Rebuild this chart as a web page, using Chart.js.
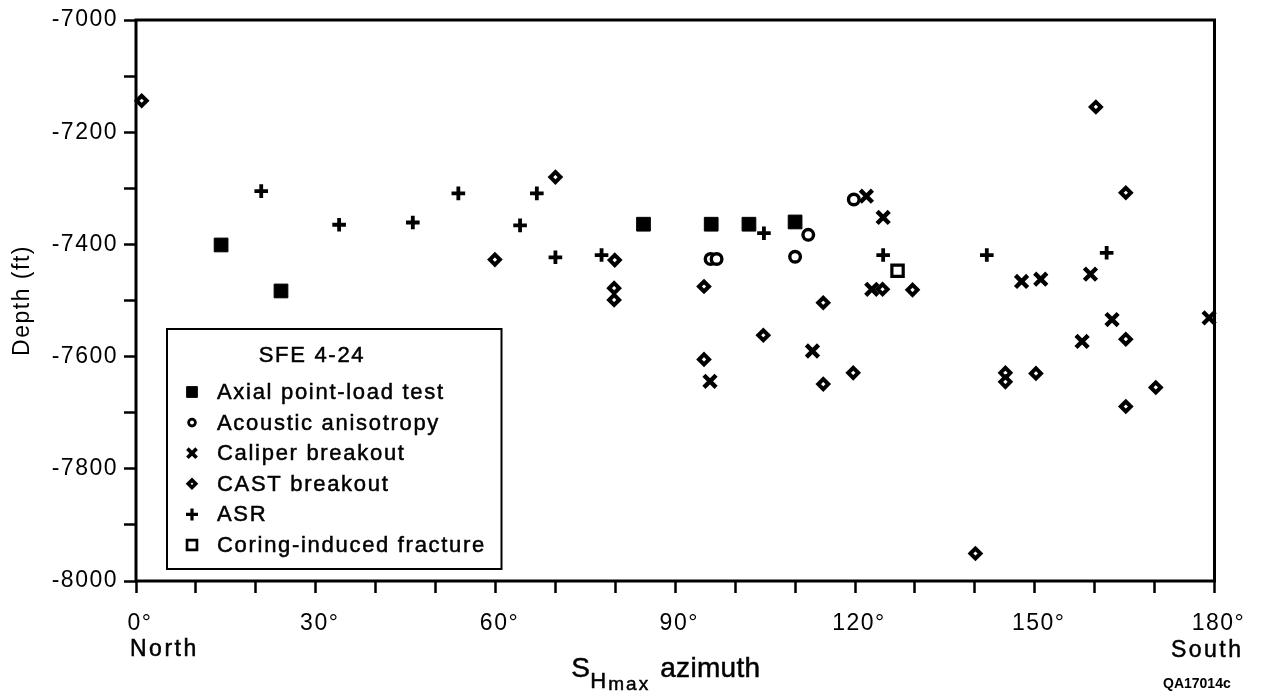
<!DOCTYPE html>
<html><head><meta charset="utf-8">
<script src="https://cdn.jsdelivr.net/npm/chart.js@4/dist/chart.umd.min.js"></script>
<style>html,body{margin:0;padding:0;background:#fff;}#wrap{width:1266px;height:694px;position:relative;background:#fff}</style>
</head><body><div id="wrap"><canvas id="c" width="1266" height="694"></canvas></div>
<script>
// ---- data (azimuth in degrees, depth in ft) ----
const seriesNames = ['Axial point-load test','Acoustic anisotropy','Caliper breakout','CAST breakout','ASR','Coring-induced fracture'];
const legendTitle = 'SFE 4-24';

const axialAz = [14.2, 24.2, 84.7, 96.0, 102.3, 110.0];
const axialDepth = [-7401, -7483, -7364, -7364, -7364, -7360];

const acousticAz = [119.8, 112.2, 110.0, 95.9, 96.9];
const acousticDepth = [-7320, -7383, -7422, -7426, -7426];

const caliperAz = [95.8, 112.9, 121.9, 124.7, 122.8, 147.8, 151.0, 159.3, 157.9, 162.9, 179.1];
const caliperDepth = [-7644, -7590, -7314, -7352, -7480, -7466, -7462, -7453, -7573, -7534, -7531];

const castAz = [0.95, 59.9, 70.0, 79.9, 79.8, 79.8, 94.8, 94.8, 104.7, 114.7, 114.7, 119.7, 124.6, 129.6, 140.1, 145.1, 145.1, 150.2, 160.2, 165.2, 165.2, 165.2, 170.2];
const castDepth = [-7144, -7427, -7280, -7428, -7478, -7499, -7475, -7605, -7562, -7504, -7649, -7629, -7480, -7481, -7951, -7629, -7645, -7630, -7155, -7308, -7569, -7689, -7655];

const asrAz = [20.9, 33.9, 46.2, 53.8, 64.1, 66.9, 70.0, 77.7, 104.8, 124.7, 142.0, 162.0];
const asrDepth = [-7305, -7365, -7361, -7309, -7366, -7309, -7423, -7419, -7380, -7419, -7419, -7415];

const coringAz = [127.1];
const coringDepth = [-7447];

const xTickValues = [0, 30, 60, 90, 120, 150, 180];
const xTickText = ['0°', '30°', '60°', '90°', '120°', '150°', '180°'];
const yTickValues = [-7000, -7200, -7400, -7600, -7800, -8000];
const yTickText = ['-7000', '-7200', '-7400', '-7600', '-7800', '-8000'];

function pts(xs, ys) { return xs.map((x, i) => ({x: x, y: ys[i]})); }

const FONT = '"Liberation Sans", Arial, Helvetica, sans-serif';
const K = '#000';

const styles = [
  {pointStyle:'rect', radius:9.7, borderWidth:1, bg:K, lr:7.6, lb:1},
  {pointStyle:'circle', radius:5.3, borderWidth:3.4, bg:'#fff', lr:3.4, lb:2.8},
  {pointStyle:'crossRot', radius:8.6, borderWidth:4.4, bg:K, lr:6.5, lb:3.6},
  {pointStyle:'rectRot', radius:5, borderWidth:4, bg:'#fff', lr:3.8, lb:3.5},
  {pointStyle:'cross', radius:6.8, borderWidth:3.8, bg:K, lr:6, lb:3.2},
  {pointStyle:'rect', radius:8, borderWidth:3.2, bg:'#fff', lr:7, lb:2.7}
];
const seriesData = [pts(axialAz, axialDepth), pts(acousticAz, acousticDepth), pts(caliperAz, caliperDepth),
                    pts(castAz, castDepth), pts(asrAz, asrDepth), pts(coringAz, coringDepth)];

const datasets = seriesNames.map((n, i) => ({
  label: n,
  data: seriesData[i],
  showLine: false,
  pointStyle: styles[i].pointStyle,
  pointRadius: styles[i].radius,
  pointBorderWidth: styles[i].borderWidth,
  pointBackgroundColor: styles[i].bg,
  pointBorderColor: K,
  clip: false
}));

function mark(ctx, style, x, y, r, bw, fill) {
  ctx.save();
  ctx.lineWidth = bw; ctx.strokeStyle = K; ctx.fillStyle = fill;
  ctx.beginPath();
  if (style === 'rect') { const s = r * Math.SQRT1_2; ctx.rect(x - s, y - s, 2 * s, 2 * s); ctx.fill(); ctx.stroke(); }
  else if (style === 'circle') { ctx.arc(x, y, r, 0, Math.PI * 2); ctx.fill(); ctx.stroke(); }
  else if (style === 'rectRot') { ctx.moveTo(x - r, y); ctx.lineTo(x, y - r); ctx.lineTo(x + r, y); ctx.lineTo(x, y + r); ctx.closePath(); ctx.fill(); ctx.stroke(); }
  else if (style === 'cross') { ctx.moveTo(x, y - r); ctx.lineTo(x, y + r); ctx.moveTo(x - r, y); ctx.lineTo(x + r, y); ctx.stroke(); }
  else if (style === 'crossRot') { const d = r * Math.SQRT1_2; ctx.moveTo(x - d, y - d); ctx.lineTo(x + d, y + d); ctx.moveTo(x + d, y - d); ctx.lineTo(x - d, y + d); ctx.stroke(); }
  ctx.restore();
}

function txt(ctx, s, x, y, size, opts) {
  opts = opts || {};
  ctx.save();
  ctx.font = (opts.bold ? 'bold ' : '') + size + 'px ' + FONT;
  ctx.fillStyle = K;
  ctx.textAlign = opts.align || 'left';
  ctx.textBaseline = opts.baseline || 'alphabetic';
  try { ctx.letterSpacing = (opts.ls || 0) + 'px'; } catch (e) {}
  ctx.fillText(s, x, y);
  if (!opts.bold) { ctx.strokeStyle = K; ctx.lineWidth = 0.5; ctx.strokeText(s, x, y); }
  ctx.restore();
}

const spacingPlugin = {
  id: 'spacing',
  beforeDraw(chart) { try { chart.ctx.letterSpacing = '1.5px'; } catch (e) {} }
};

const framePlugin = {
  id: 'frame',
  beforeDatasetsDraw(chart) {
    const a = chart.chartArea, ctx = chart.ctx;
    ctx.save();
    ctx.strokeStyle = K; ctx.lineWidth = 3;
    ctx.strokeRect(a.left, a.top, a.right - a.left, a.bottom - a.top);
    ctx.restore();
  }
};

const annotPlugin = {
  id: 'annot',
  afterDraw(chart) {
    const ctx = chart.ctx;
    const xs = chart.scales.x;
    const x0 = xs.getPixelForValue(0), x180 = xs.getPixelForValue(180);
    // direction words
    txt(ctx, 'North', x0 - 6, 655.5, 23, {ls: 2.5});
    txt(ctx, 'South', x180 + 29, 656.5, 23, {ls: 2.5, align: 'right'});
    // x axis title with subscripts
    const cx = (chart.chartArea.left + chart.chartArea.right) / 2;
    txt(ctx, 'S', cx - 104, 677, 28, {ls: 0});
    txt(ctx, 'H', cx - 85, 688, 22, {ls: 0});
    txt(ctx, 'max', cx - 67, 690, 19, {ls: 2});
    txt(ctx, 'azimuth', cx - 15, 677, 28, {ls: 0.3});
    // figure code
    txt(ctx, 'QA17014c', 1163, 687.5, 14, {bold: true});
    // legend
    const L = 167, T = 329, R = 501.5, B = 569;
    ctx.save();
    ctx.fillStyle = '#fff'; ctx.fillRect(L, T, R - L, B - T);
    ctx.strokeStyle = K; ctx.lineWidth = 2; ctx.strokeRect(L, T, R - L, B - T);
    ctx.restore();
    txt(ctx, legendTitle, 312, 356, 22, {ls: 1.7, align: 'center', baseline: 'middle'});
    chart.data.datasets.forEach((ds, i) => {
      const y = 392 + i * 30.6;
      const st = styles[i];
      mark(ctx, st.pointStyle, 192, y, st.lr, st.lb, st.bg);
      txt(ctx, ds.label, 217, y + 1, 22, {ls: 1.7, baseline: 'middle'});
    });
  }
};

new Chart(document.getElementById('c'), {
  type: 'scatter',
  data: {datasets: datasets},
  options: {
    responsive: false,
    animation: false,
    events: [],
    layout: {padding: {left: 0, top: 20, right: 51.5, bottom: 0}},
    plugins: {legend: {display: false}, tooltip: {enabled: false}, title: {display: false}},
    scales: {
      x: {
        type: 'linear', position: 'bottom', min: 0, max: 180,
        border: {display: false},
        grid: {display: true, drawOnChartArea: false, drawTicks: true, tickLength: 12, tickWidth: 2.5, tickColor: K},
        ticks: {
          stepSize: 10, autoSkip: false, maxRotation: 0, minRotation: 0, padding: 17, labelOffset: 4,
          color: K, font: {family: FONT, size: 23},
          callback: v => { const i = xTickValues.indexOf(v); return i >= 0 ? xTickText[i] : ''; }
        },
        afterFit: s => { s.height = 113; }
      },
      y: {
        type: 'linear', position: 'left', min: -8000, max: -7000,
        border: {display: false},
        grid: {display: true, drawOnChartArea: false, drawTicks: true, tickLength: 12, tickWidth: 2.5, tickColor: K},
        ticks: {
          stepSize: 100, autoSkip: false, padding: 6,
          color: K, font: {family: FONT, size: 23},
          callback: v => { const i = yTickValues.indexOf(v); return i >= 0 ? yTickText[i] : ''; }
        },
        title: {display: true, text: 'Depth (ft)', color: K, font: {family: FONT, size: 23}, padding: {top: 9, bottom: 0}},
        afterFit: s => { s.width = 136; }
      }
    }
  },
  plugins: [spacingPlugin, framePlugin, annotPlugin]
});
</script>
</body></html>
